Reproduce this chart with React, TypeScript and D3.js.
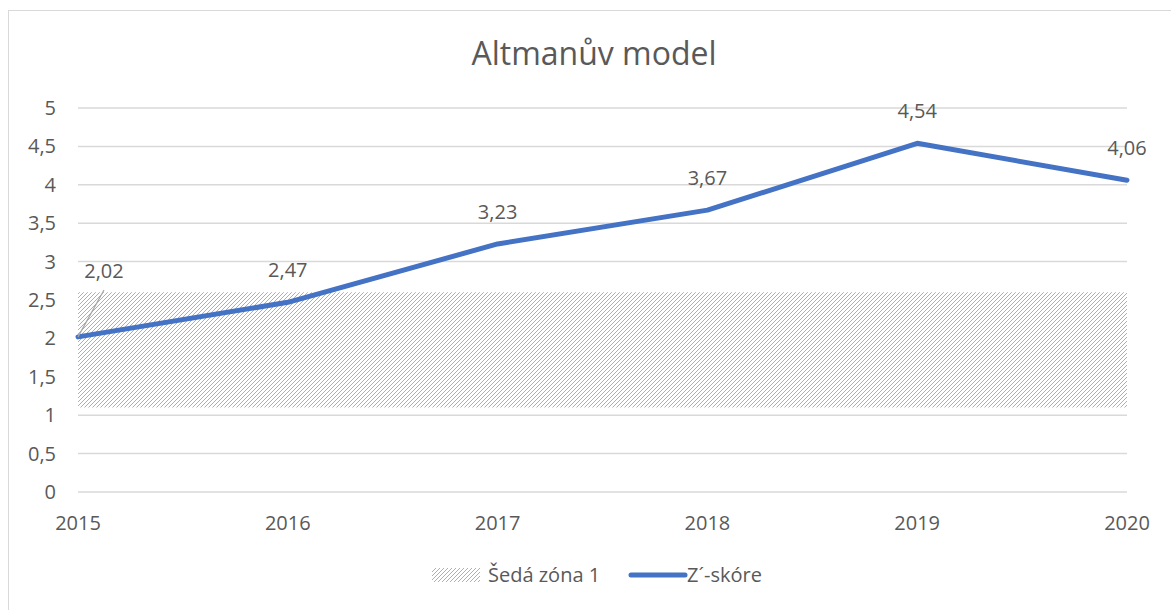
import React from "react";
import * as d3 from "d3";

const years = ["2015", "2016", "2017", "2018", "2019", "2020"];
const zScore = [2.02, 2.47, 3.23, 3.67, 4.54, 4.06];
const greyLow = [1.1, 1.1, 1.1, 1.1, 1.1, 1.1];
const greyHigh = [2.6, 2.6, 2.6, 2.6, 2.6, 2.6];
const yTicks = [0, 0.5, 1, 1.5, 2, 2.5, 3, 3.5, 4, 4.5, 5];
const title = "Altmanův model";
const seriesNames = ["Šedá zóna 1", "Z´-skóre"];

const W = 1171;
const H = 610;
const FONT = "'Open Sans', sans-serif";
const TXT = "#595959";
const fmt = (v: number) => String(v).replace(".", ",");

export default function App() {
  const x = d3.scalePoint<string>().domain(years).range([78, 1127]);
  const y = d3.scaleLinear().domain([0, 5]).range([492, 108]);

  const area = d3
    .area<number>()
    .x((_, i) => x(years[i]) as number)
    .y0((_, i) => y(greyLow[i]))
    .y1((d) => y(d));
  const line = d3
    .line<number>()
    .x((_, i) => x(years[i]) as number)
    .y((d) => y(d));

  return (
    <svg width={W} height={H} style={{ position: "absolute", left: 0, top: 0 }}>
      <defs>
        <pattern id="hatch" width="4" height="4" patternUnits="userSpaceOnUse">
          <rect width="4" height="4" fill="#fff" />
          <path d="M-1,1 l2,-2 M0,4 l4,-4 M3,5 l2,-2" stroke="#a6a6a6" strokeWidth="0.9" />
        </pattern>
      </defs>
      <rect x={0} y={0} width={W} height={H} fill="#fff" />
      <rect x={8.5} y={10.5} width={W} height={H} fill="#fff" stroke="#d9d9d9" strokeWidth={1} />
      <text x={594} y={65} textAnchor="middle" fontFamily={FONT} fontSize={32} fill={TXT}>
        {title}
      </text>
      {yTicks.map((t) => (
        <g key={t}>
          <line x1={78} x2={1127} y1={y(t)} y2={y(t)} stroke="#d9d9d9" strokeWidth={1.5} />
          <text x={56} y={y(t)} dy="0.35em" textAnchor="end" fontFamily={FONT} fontSize={20} fill={TXT}>
            {fmt(t)}
          </text>
        </g>
      ))}
      {years.map((yr) => (
        <text key={yr} x={x(yr)} y={530} textAnchor="middle" fontFamily={FONT} fontSize={20} fill={TXT}>
          {yr}
        </text>
      ))}
      <path d={area(greyHigh) || ""} fill="url(#hatch)" />
      <path d={line(zScore) || ""} fill="none" stroke="#4472C4" strokeWidth={5} strokeLinejoin="round" strokeLinecap="round" />
      <line
        x1={x(years[0]) as number}
        y1={y(zScore[0])}
        x2={104}
        y2={290}
        stroke="#a6a6a6"
        strokeWidth={1.2}
      />
      {zScore.map((v, i) => {
        const px = i === 0 ? 104 : (x(years[i]) as number);
        const py = i === 0 ? 278 : y(v) - 25;
        return (
          <text key={i} x={px} y={py} textAnchor="middle" fontFamily={FONT} fontSize={20} fill={TXT}>
            {fmt(v)}
          </text>
        );
      })}
      <g>
        <rect x={432} y={568} width={48} height={14} fill="url(#hatch)" />
        <text x={488} y={575} dy="0.35em" fontFamily={FONT} fontSize={20} fill={TXT}>
          {seriesNames[0]}
        </text>
        <line x1={631} x2={685} y1={575} y2={575} stroke="#4472C4" strokeWidth={5} strokeLinecap="round" />
        <text x={687} y={575} dy="0.35em" fontFamily={FONT} fontSize={20} fill={TXT}>
          {seriesNames[1]}
        </text>
      </g>
    </svg>
  );
}
